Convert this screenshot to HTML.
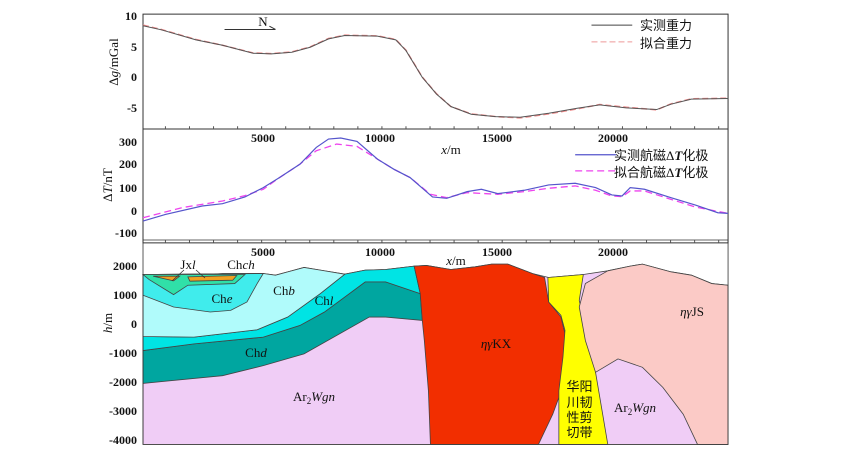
<!DOCTYPE html>
<html><head><meta charset="utf-8"><style>
html,body{margin:0;padding:0;background:#fff;}
svg{display:block;}
text{font-family:"Liberation Serif","Noto Serif CJK SC",serif;font-size:13px;fill:#111;}
.cj{font-family:"Liberation Serif","Noto Sans CJK SC",sans-serif;}
.r{text-anchor:end;}
.m{text-anchor:middle;}
.t text{font-size:12px;}
</style></head><body>
<svg width="850" height="450" viewBox="0 0 850 450">
<g transform="translate(100.2,0) scale(0.4077,0.335)" fill="none">
<rect x="105" y="42" width="1435" height="683" stroke="#333" stroke-width="1" vector-effect="non-scaling-stroke"/>
<line x1="105" y1="385" x2="1540" y2="385" stroke="#333" vector-effect="non-scaling-stroke"/>
<path d="M160 385v-8M219 385v-8M278 385v-8M337 385v-8M396 385v-8M455 385v-8M514 385v-8M573 385v-8M632 385v-8M691 385v-8M750 385v-8M809 385v-8M868 385v-8M927 385v-8M986 385v-8M1045 385v-8M1104 385v-8M1163 385v-8M1222 385v-8M1281 385v-8M1340 385v-8M1399 385v-8M1458 385v-8M1517 385v-8
M160 725v-8M219 725v-8M278 725v-8M337 725v-8M396 725v-8M455 725v-8M514 725v-8M573 725v-8M632 725v-8M691 725v-8M750 725v-8M809 725v-8M868 725v-8M927 725v-8M986 725v-8M1045 725v-8M1104 725v-8M1163 725v-8M1222 725v-8M1281 725v-8M1340 725v-8M1399 725v-8M1458 725v-8M1517 725v-8" stroke="#555" vector-effect="non-scaling-stroke"/>
<polyline points="105,75 150,88 235,118 300,135 375,158 420,160 470,155 515,140 560,115 600,105 680,107 725,118 750,150 790,230 825,280 860,318 910,340 970,348 1030,352 1100,340 1170,325 1225,312 1290,320 1365,328 1400,310 1450,295 1540,293" stroke="#e88" stroke-width="1.5" stroke-dasharray="6,3" vector-effect="non-scaling-stroke"/>
<polyline points="105,77 150,89 235,119 300,135 375,159 420,161 470,156 515,141 560,116 600,106 680,108 725,119 750,151 790,231 825,281 860,318 910,341 970,348 1030,350 1100,338 1170,323 1225,313 1290,322 1365,327 1400,311 1450,296 1540,294" stroke="#555" stroke-width="1" vector-effect="non-scaling-stroke"/>
<polyline points="105,650 200,620 300,600 355,584 400,565 440,530 490,490 530,450 580,430 630,437 680,475 720,505 760,530 810,580 850,590 900,575 975,580 1040,572 1100,562 1165,555 1215,568 1255,585 1280,587 1300,570 1335,570 1400,595 1460,618 1540,637" stroke="#e4e" stroke-width="1.3" stroke-dasharray="7,4" vector-effect="non-scaling-stroke"/>
<polyline points="105,660 160,640 250,615 300,608 355,588 400,560 440,530 490,490 530,440 560,415 590,412 630,422 680,475 720,505 760,530 815,588 850,592 900,572 935,565 975,578 1040,568 1100,552 1165,547 1215,560 1255,582 1280,585 1300,560 1335,565 1400,590 1460,612 1515,635 1540,637" stroke="#55c" stroke-width="1.2" vector-effect="non-scaling-stroke"/>
<line x1="1205" y1="75" x2="1305" y2="75" stroke="#444" vector-effect="non-scaling-stroke"/>
<line x1="1205" y1="125" x2="1305" y2="125" stroke="#e99" stroke-dasharray="6,3" vector-effect="non-scaling-stroke"/>
<line x1="1165" y1="462" x2="1265" y2="462" stroke="#55c" stroke-width="1.3" vector-effect="non-scaling-stroke"/>
<line x1="1165" y1="510" x2="1265" y2="510" stroke="#e4e" stroke-dasharray="7,4" stroke-width="1.3" vector-effect="non-scaling-stroke"/>
<path d="M305 88H430M415 78L430 88" stroke="#333" vector-effect="non-scaling-stroke"/>
</g>
<g transform="translate(100.2,240) scale(0.4077,0.335)" stroke="#444" stroke-width="0.8">
<path vector-effect="non-scaling-stroke" fill="#f0cdf6" d="M105 103L165 103 200 110 300 100 400 100 430 105 460 95 500 82 540 90 600 102 650 90 700 88 770 78 800 76 860 88 920 80 960 72 1000 72 1060 100 1100 112 1185 103 1245 92 1300 78 1330 72 1400 95 1450 105 1500 130 1540 135 1540 610 105 610Z"/>
<path vector-effect="non-scaling-stroke" fill="#00a6a0" d="M105 330L230 310 400 290 490 255 550 215 650 125 700 125 785 160 790 240 700 230 660 230 500 340 400 375 300 405 105 428Z"/>
<path vector-effect="non-scaling-stroke" fill="#00e4e4" d="M105 288L230 290 385 268 460 230 540 160 600 102 650 90 700 88 770 78 785 160 700 125 650 125 550 215 490 255 400 290 230 310 105 330Z"/>
<path vector-effect="non-scaling-stroke" fill="#b0fbfb" d="M105 103L400 100 430 105 460 95 500 82 540 90 600 102 540 160 460 230 385 268 230 290 105 288Z"/>
<path vector-effect="non-scaling-stroke" fill="#40ecec" d="M105 103L400 100 385 130 360 185 320 210 270 215 180 200 105 165Z"/>
<path vector-effect="non-scaling-stroke" fill="#30e0a8" d="M105 103L355 103 330 130 215 135 180 163 120 118Z"/>
<path vector-effect="non-scaling-stroke" fill="#f0a020" d="M130 108L195 108 180 122ZM215 110L335 106 325 120 220 123Z"/>
<path vector-effect="non-scaling-stroke" fill="#f22e00" d="M770 78L800 76 860 88 920 80 960 72 1000 72 1060 100 1090 112 1100 185 1130 230 1150 330 1140 420 1110 520 1075 610 810 610 805 450 795 300 790 240 785 160Z"/>
<path vector-effect="non-scaling-stroke" fill="#ffff00" d="M1098 112L1185 103 1175 180 1190 260 1215 395 1245 610 1125 610 1125 450 1135 350 1140 270 1130 225 1100 185Z"/>
<path vector-effect="non-scaling-stroke" fill="#fbcac6" d="M1245 92L1300 78 1330 72 1400 95 1450 105 1500 130 1540 135 1540 610 1465 610 1430 520 1380 440 1330 380 1270 355 1215 395 1190 300 1175 200 1190 130Z"/>
<rect vector-effect="non-scaling-stroke" x="105" y="0" width="1435" height="610" fill="none" stroke="#333"/>
</g>
<path d="M184 270L172 281M196 270L205 278" stroke="#333" stroke-width="0.8" fill="none"/>
<g font-weight="bold" class="t">
<text x="137" y="20" class="r">10</text><text x="137" y="51" class="r">5</text><text x="137" y="81" class="r">0</text><text x="137" y="112" class="r">-5</text>
<text x="137" y="146" class="r">300</text><text x="137" y="168" class="r">200</text><text x="137" y="192" class="r">100</text><text x="137" y="215" class="r">0</text><text x="137" y="237" class="r">-100</text>
<text x="137" y="270" class="r">2000</text><text x="137" y="299" class="r">1000</text><text x="137" y="328" class="r">0</text><text x="137" y="357" class="r">-1000</text><text x="137" y="386" class="r">-2000</text><text x="137" y="415" class="r">-3000</text><text x="137" y="444" class="r">-4000</text>
<text x="263" y="142" class="m">5000</text><text x="380" y="142" class="m">10000</text><text x="497" y="142" class="m">15000</text><text x="613" y="142" class="m">20000</text>
<text x="263" y="256" class="m">5000</text><text x="380" y="256" class="m">10000</text><text x="497" y="256" class="m">15000</text><text x="613" y="256" class="m">20000</text>
</g>
<text x="451" y="154" class="m"><tspan font-style="italic">x</tspan>/m</text>
<text x="456" y="265" class="m"><tspan font-style="italic">x</tspan>/m</text>
<text transform="translate(118,62) rotate(-90)" class="m">Δ<tspan font-style="italic">g</tspan>/mGal</text>
<text transform="translate(112,185) rotate(-90)" class="m">Δ<tspan font-style="italic">T</tspan>/nT</text>
<text transform="translate(112,323) rotate(-90)" class="m"><tspan font-style="italic">h</tspan>/m</text>
<text x="263" y="26" class="m">N</text>
<text x="640" y="30" class="cj">实测重力</text>
<text x="640" y="48" class="cj">拟合重力</text>
<text x="614" y="160" class="cj">实测航磁Δ<tspan font-style="italic" font-weight="bold">T</tspan>化极</text>
<text x="614" y="177" class="cj">拟合航磁Δ<tspan font-style="italic" font-weight="bold">T</tspan>化极</text>
<text x="188" y="269" class="m">Jx<tspan font-style="italic">l</tspan></text>
<text x="241" y="269" class="m">Ch<tspan font-style="italic">ch</tspan></text>
<text x="222" y="303" class="m">Ch<tspan font-style="italic">e</tspan></text>
<text x="284" y="295" class="m">Ch<tspan font-style="italic">b</tspan></text>
<text x="324" y="305" class="m">Ch<tspan font-style="italic">l</tspan></text>
<text x="256" y="357" class="m">Ch<tspan font-style="italic">d</tspan></text>
<text x="314" y="401" class="m">Ar<tspan font-size="9" dy="3">2</tspan><tspan dy="-3" font-style="italic">Wgn</tspan></text>
<text x="496" y="348" class="m"><tspan font-style="italic">ηγ</tspan>KX</text>
<text x="692" y="316" class="m"><tspan font-style="italic">ηγ</tspan>JS</text>
<text x="635" y="412" class="m">Ar<tspan font-size="9" dy="3">2</tspan><tspan dy="-3" font-style="italic">Wgn</tspan></text>
<g class="cj" font-size="13">
<text x="573" y="391" class="m cj">华</text><text x="586" y="391" class="m cj">阳</text>
<text x="573" y="407" class="m cj">川</text><text x="586" y="407" class="m cj">韧</text>
<text x="573" y="422" class="m cj">性</text><text x="586" y="422" class="m cj">剪</text>
<text x="573" y="437" class="m cj">切</text><text x="586" y="437" class="m cj">带</text>
</g>
</svg>
</body></html>
